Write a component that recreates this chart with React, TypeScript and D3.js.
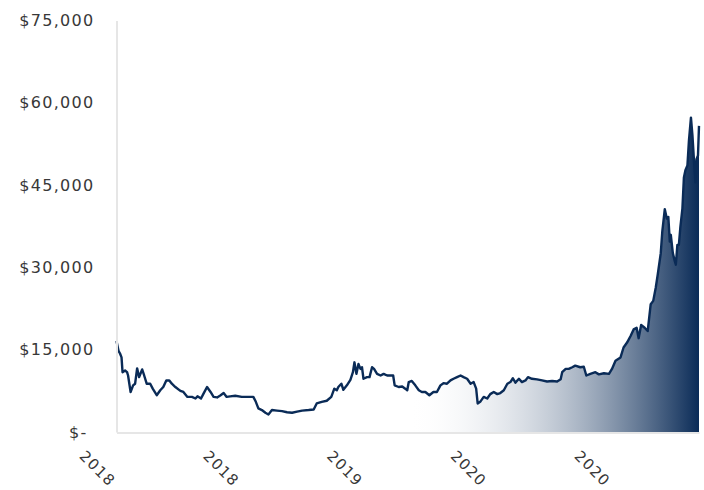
import React, { useRef, useEffect } from "react";
import * as d3 from "d3";

// price readings: day offset from the first point, and price in USD
const days = [
  0, 4, 7, 10, 12, 17, 21, 23, 28, 33, 37, 41, 45, 51, 55, 60, 67, 72, 80, 87,
  93, 99, 105, 110, 117, 127, 133, 141, 150, 157, 161, 168, 173, 180, 187, 193,
  200, 207, 213, 219, 226, 236, 249, 262, 272, 277, 282, 289, 296, 302, 309,
  319, 329, 339, 349, 359, 369, 382, 392, 398, 408, 418, 427, 433, 438, 441,
  447, 451, 458, 465, 470, 473, 477, 481, 485, 488, 491, 498, 503, 508, 512,
  518, 525, 531, 538, 544, 550, 553, 561, 568, 574, 578, 581, 587, 594, 601,
  607, 614, 622, 630, 637, 644, 650, 657, 664, 670, 677, 684, 690, 697, 704,
  710, 715, 718, 723, 730, 737, 743, 750, 757, 763, 770, 777, 783, 788, 793,
  800, 806, 813, 818, 826, 836, 846, 856, 866, 876, 883, 886, 893, 899, 906,
  912, 922, 929, 934, 942, 952, 959, 969, 979, 985, 992, 1002, 1008, 1015,
  1022, 1028, 1034, 1038, 1043, 1050, 1056, 1062, 1067, 1072, 1076, 1082,
  1085, 1090, 1094, 1097, 1100, 1102, 1106, 1110, 1112, 1115, 1118, 1121,
  1125, 1128, 1131, 1135, 1138, 1142, 1145, 1148, 1151, 1153, 1156, 1158,
];

const prices = [
  16600, 14800, 14300, 13600, 10900, 11200, 10900, 10300, 7300, 8500, 8800,
  11600, 10000, 11400, 10300, 8800, 8800, 7900, 6700, 7600, 8200, 9400, 9400,
  8800, 8200, 7500, 7300, 6400, 6400, 6100, 6500, 6100, 7000, 8200, 7300, 6400,
  6300, 6700, 7100, 6400, 6500, 6600, 6400, 6400, 6400, 5500, 4300, 4000, 3500,
  3200, 4000, 3900, 3800, 3600, 3500, 3700, 3900, 4000, 4100, 5200, 5500, 5700,
  6400, 7900, 7600, 8200, 8800, 7700, 8500, 9500, 10900, 12700, 10600, 12400,
  11500, 11800, 9700, 10000, 10000, 11800, 11500, 10600, 10300, 10600, 10300,
  10300, 10300, 8500, 8200, 8300, 7900, 7600, 9100, 9300, 8500, 7600, 7300,
  7300, 6700, 7300, 7300, 8500, 8900, 8800, 9400, 9700, 10000, 10300, 10000,
  9700, 8800, 9100, 7900, 5200, 5500, 6400, 6100, 6900, 7300, 6900, 7100, 7600,
  8800, 9100, 9800, 9000, 9700, 9100, 9400, 10000, 9700, 9600, 9400, 9200,
  9300, 9200, 9600, 10900, 11500, 11500, 11800, 12100, 11800, 11900, 10300,
  10600, 10900, 10500, 10700, 10600, 11500, 13000, 13600, 15400, 16300, 17500,
  18700, 19000, 17100, 19500, 19000, 18400, 23300, 23900, 26300, 28700, 32600,
  36500, 40600, 38900, 39200, 34700, 35900, 32600, 31100, 30500, 34100, 34100,
  37400, 40700, 46400, 47700, 48600, 53100, 57300, 54000, 49500, 45500, 49700,
  50400, 55800,
];

const yTicks = [0, 15000, 30000, 45000, 60000, 75000];
const xTickDays = [0, 246, 492, 738, 984];
const xTickLabels = ["2018", "2018", "2019", "2020", "2020"];

const navy = "#0a2b57";
const font = "'DejaVu Sans', sans-serif";

const App = () => {
  const chartRef = useRef<SVGSVGElement>(null);

  useEffect(() => {
    const svg = d3.select(chartRef.current);
    svg.selectAll("*").remove();

    const width = 704;
    const height = 490;
    const left = 116.5;
    const right = 699;
    const top = 20.5;
    const bottom = 432;

    const data = days.map((d, i) => ({ day: d, value: prices[i] }));

    const xScale = d3.scaleLinear().domain([0, 1158]).range([left, right]);
    const yScale = d3.scaleLinear().domain([0, 75000]).range([bottom, top]);

    svg.attr("width", width).attr("height", height);

    const grad = svg
      .append("defs")
      .append("linearGradient")
      .attr("id", "fade")
      .attr("gradientUnits", "userSpaceOnUse")
      .attr("x1", left)
      .attr("x2", right)
      .attr("y1", 0)
      .attr("y2", 0);
    grad.append("stop").attr("offset", 0.5).attr("stop-color", "#ffffff").attr("stop-opacity", 0);
    grad.append("stop").attr("offset", 1).attr("stop-color", navy).attr("stop-opacity", 1);

    const area = d3
      .area<{ day: number; value: number }>()
      .x((d) => xScale(d.day))
      .y0(yScale(0))
      .y1((d) => yScale(d.value));

    const line = d3
      .line<{ day: number; value: number }>()
      .x((d) => xScale(d.day))
      .y((d) => yScale(d.value));

    svg.append("path").datum(data).attr("d", area).attr("fill", "url(#fade)");

    svg
      .append("path")
      .datum(data)
      .attr("d", line)
      .attr("fill", "none")
      .attr("stroke", navy)
      .attr("stroke-width", 2.4)
      .attr("stroke-linejoin", "round");

    // y axis
    const yAxis = svg
      .append("g")
      .attr("transform", `translate(${left},0)`)
      .call(
        d3
          .axisLeft(yScale)
          .tickValues(yTicks)
          .tickSize(0)
          .tickPadding(22)
          .tickFormat((v) => (+v === 0 ? "$-" : "$" + d3.format(",")(+v)))
      );
    yAxis.select(".domain").attr("stroke", "#e6e6e6").attr("stroke-width", 2);
    yAxis
      .selectAll("text")
      .attr("fill", "#383838")
      .style("font-family", font)
      .style("font-size", "16px")
      .style("letter-spacing", "1.3px")
      .attr("dx", (d) => (+(d as number) === 0 ? -7 : 0));

    // x axis
    const xAxis = svg
      .append("g")
      .attr("transform", `translate(0,${bottom + 0.5})`)
      .call(
        d3
          .axisBottom(xScale)
          .tickValues(xTickDays)
          .tickSize(0)
          .tickFormat((_, i) => xTickLabels[i])
      );
    xAxis.select(".domain").attr("stroke", "#e6e6e6").attr("stroke-width", 2);
    xAxis
      .selectAll("text")
      .attr("fill", "#383838")
      .attr("x", 0)
      .attr("y", 0)
      .attr("dy", "0.35em")
      .style("text-anchor", "middle")
      .style("font-family", font)
      .style("font-size", "15px")
      .style("letter-spacing", "1.2px")
      .attr("transform", "translate(-19.5,36) rotate(45)");
  }, []);

  return (
    <div style={{ position: "absolute", left: 0, top: 0, width: 704, height: 490 }}>
      <svg ref={chartRef}></svg>
    </div>
  );
};

export default App;
